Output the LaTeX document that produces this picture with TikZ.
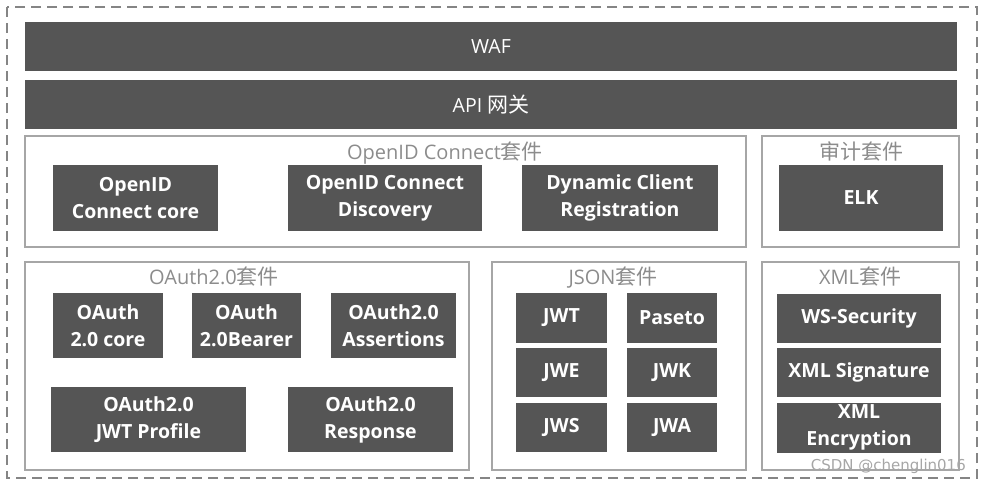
\documentclass[tikz,border=0pt]{standalone}
\usepackage{fontspec}
\setmainfont{Open Sans}
\newfontfamily\cjk{Noto Sans CJK SC}
\newfontfamily\wmfont{DejaVu Sans}
\usetikzlibrary{positioning}
\definecolor{blockgray}{HTML}{555555}
\definecolor{suiteline}{HTML}{A6A6A6}
\definecolor{titlegray}{HTML}{8C8C8C}
\definecolor{borderline}{HTML}{858585}
\newcommand\cn[1]{{\cjk\fontsize{21}{24}\selectfont #1}}
\tikzset{
	block/.style={fill=blockgray, text=white, inner sep=0pt, align=center, font=\fontsize{19.5}{27}\selectfont\bfseries},
	bar/.style={fill=blockgray, text=white, inner sep=0pt, minimum width=932pt, minimum height=49pt, font=\fontsize{19.5}{24}\selectfont},
	suite/.style={draw=suiteline, line width=1.3pt, inner sep=0pt},
	suitetitle/.style={text=titlegray, anchor=base, inner sep=0pt, font=\fontsize{20}{24}\selectfont},
}

\begin{document}
\begin{tikzpicture}[x=1pt, y=-1pt]
	\useasboundingbox (0,0) rectangle (981,483);
	\draw[borderline, line width=1.3pt, dash pattern=on 10pt off 6pt] (7,7) rectangle (977,478);
	% gateway bars
	\node[bar] (waf) at (491,46.5) {WAF};
	\node[bar] (gateway) at (491,104.5) {API \cn{网关}};
	% suites
	\node[suite, minimum width=721pt, minimum height=111pt] (oidc) at (385.5,191.5) {};
	\node[suite, minimum width=197pt, minimum height=111pt] (audit) at (860.5,191.5) {};
	\node[suite, minimum width=444pt, minimum height=208pt] (oauth) at (247,366) {};
	\node[suite, minimum width=254pt, minimum height=208pt] (json) at (619,366) {};
	\node[suite, minimum width=197pt, minimum height=208pt] (xml) at (860.5,366) {};
	\node[suitetitle] (oidctitle) at (445,159) {OpenID Connect\cn{套件}};
	\node[suitetitle] (audittitle) at (861,159) {\cn{审计套件}};
	\node[suitetitle] (oauthtitle) at (214,284) {OAuth2.0\cn{套件}};
	\node[suitetitle] (jsontitle) at (613,284) {JSON\cn{套件}};
	\node[suitetitle] (xmltitle) at (860,284) {XML\cn{套件}};
	% OpenID Connect
	\node[block, minimum width=165pt, minimum height=66pt] (oidccore) at (135.5,198) {OpenID\\Connect core};
	\node[block, minimum width=194pt, minimum height=66pt] (discovery) at (385,198) {OpenID Connect\\Discovery};
	\node[block, minimum width=196pt, minimum height=66pt] (dcr) at (620,198) {Dynamic Client\\Registration};
	\node[block, minimum width=164pt, minimum height=66pt] (elk) at (861,198) {ELK};
	% OAuth2.0
	\node[block, minimum width=110pt, minimum height=65pt] (oauthcore) at (108,325.5) {OAuth\\2.0 core};
	\node[block, minimum width=109pt, minimum height=65pt] (bearer) at (246.5,325.5) {OAuth\\2.0Bearer};
	\node[block, minimum width=125pt, minimum height=65pt] (assertions) at (393.5,325.5) {OAuth2.0\\Assertions};
	\node[block, minimum width=195pt, minimum height=65pt] (jwtprofile) at (148.5,419.5) {OAuth2.0\\JWT Profile};
	\node[block, minimum width=165pt, minimum height=65pt] (response) at (370.5,419.5) {OAuth2.0\\Response};
	% JSON
	\node[block, minimum width=91pt, minimum height=50pt] (jwt) at (561.5,318) {JWT};
	\node[block, minimum width=90pt, minimum height=50pt] (paseto) at (672,318) {Paseto};
	\node[block, minimum width=91pt, minimum height=49pt] (jwe) at (561.5,372.5) {JWE};
	\node[block, minimum width=90pt, minimum height=49pt] (jwk) at (672,372.5) {JWK};
	\node[block, minimum width=91pt, minimum height=49pt] (jws) at (561.5,427.5) {JWS};
	\node[block, minimum width=90pt, minimum height=49pt] (jwa) at (672,427.5) {JWA};
	% XML
	\node[block, minimum width=164pt, minimum height=49pt] (wssec) at (859,318.5) {WS-Security};
	\node[block, minimum width=164pt, minimum height=49pt] (xmlsig) at (859,372.5) {XML Signature};
	\node[block, minimum width=164pt, minimum height=50pt] (xmlenc) at (859,427.5) {XML\\Encryption};
	\node[anchor=base east, text=gray!70, inner sep=0pt, font=\wmfont\fontsize{15}{17}\selectfont] (mark) at (966,470) {CSDN @chenglin016};
\end{tikzpicture}
\end{document}
